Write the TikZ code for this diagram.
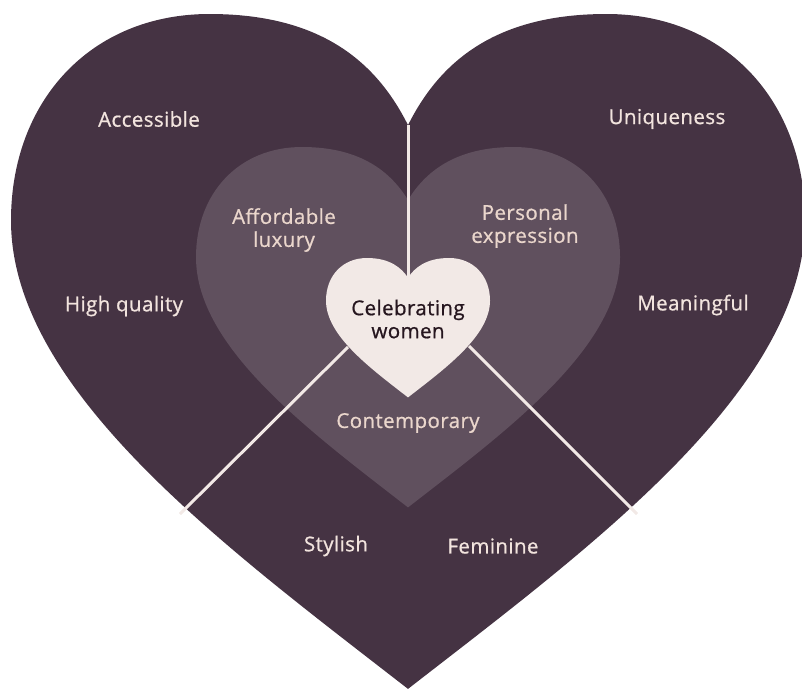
\documentclass[tikz,border=0pt]{standalone}
\usepackage{fontspec}
\setmainfont{Open Sans}
\newfontfamily\lblfont{Open Sans}[FakeBold=0.8, LetterSpace=2]
\definecolor{hdark}{HTML}{453343}
\definecolor{hmid}{HTML}{60505E}
\definecolor{hlight}{HTML}{F2E9E6}
\definecolor{tlight}{HTML}{F2E4DE}
\definecolor{tbeige}{HTML}{EAD6CC}
\definecolor{tdark}{HTML}{26161F}
\newcommand{\hrt}[4]{%
 (#1,{#2+#4*#3}) .. controls ({#1+0.08*#3},{#2+0.12*#3}) and ({#1+0.22*#3},#2) .. ({#1+0.5*#3},#2)
 .. controls ({#1+0.8*#3},#2) and ({#1+#3},{#2+0.22*#3}) .. ({#1+#3},{#2+0.52*#3})
 .. controls ({#1+#3},{#2+0.95*#3}) and ({#1+0.45*#3},{#2+1.35*#3}) .. (#1,{#2+1.7*#3})
 .. controls ({#1-0.45*#3},{#2+1.35*#3}) and ({#1-#3},{#2+0.95*#3}) .. ({#1-#3},{#2+0.52*#3})
 .. controls ({#1-#3},{#2+0.22*#3}) and ({#1-0.8*#3},#2) .. ({#1-0.5*#3},#2)
 .. controls ({#1-0.22*#3},#2) and ({#1-0.08*#3},{#2+0.12*#3}) .. cycle}
\tikzset{
 lbl/.style={text=tlight, font=\lblfont\fontsize{20.5}{23}\selectfont, align=center, inner sep=0pt},
 mlbl/.style={lbl, text=tbeige},
 clbl/.style={lbl, text=tdark},
 divider/.style={draw=hlight, line width=3pt}
}
\begin{document}
\begin{tikzpicture}[x=1pt,y=-1pt]
\useasboundingbox (0,0) rectangle (802,694);
\fill[hdark] \hrt{408}{14}{397}{0.28};
\fill[hmid] \hrt{408}{147}{212}{0.25};
\coordinate (vtop) at (408,125);
\coordinate (vbot) at (408,279);
\coordinate (ltop) at (348,347);
\coordinate (lbot) at (180,514);
\coordinate (rtop) at (469,346);
\coordinate (rbot) at (637,514);
\draw[divider] (vtop) -- (vbot);
\draw[divider] (ltop) -- (lbot);
\draw[divider] (rtop) -- (rbot);
\fill[hlight] \hrt{408}{258}{82}{0.24};
\node[lbl] (acc) at (149,119) {Accessible};
\node[lbl] (uni) at (667,119) {Uniqueness};
\node[mlbl] (aff) at (284,230) {Affordable\\luxury};
\node[mlbl] (per) at (525,226) {Personal\\expression};
\node[lbl] (hq) at (124,306) {High quality};
\node[lbl] (mea) at (693,305) {Meaningful};
\node[clbl] (cel) at (408,319) {Celebrating\\women};
\node[mlbl] (con) at (408,423) {Contemporary};
\node[lbl] (sty) at (336,546) {Stylish};
\node[lbl] (fem) at (493,546) {Feminine};
\end{tikzpicture}
\end{document}
